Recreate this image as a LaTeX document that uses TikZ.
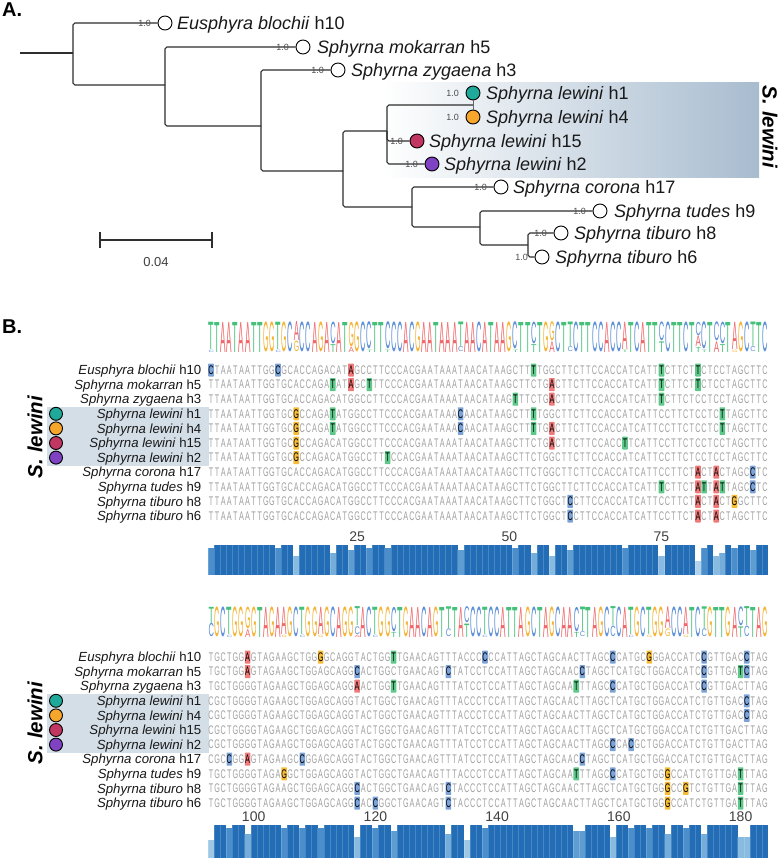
\documentclass[tikz,border=0pt]{standalone}
\usepackage{fontspec}
\setmainfont{Liberation Sans}
\usepackage{graphicx}
\usetikzlibrary{calc}

\definecolor{lgA}{HTML}{F0686A}
\definecolor{lgC}{HTML}{5E90D8}
\definecolor{lgG}{HTML}{F5B333}
\definecolor{lgT}{HTML}{44C07A}
\definecolor{hlA}{HTML}{F07A7A}
\definecolor{hlC}{HTML}{7BA3D8}
\definecolor{hlG}{HTML}{F7BB35}
\definecolor{hlT}{HTML}{5DC88A}
\definecolor{seqgray}{HTML}{A0A0A0}
\definecolor{treeline}{HTML}{2E2E2E}
\definecolor{cladeband}{HTML}{A8BCCF}
\definecolor{bandB}{HTML}{D4DEE7}
\definecolor{hapTeal}{HTML}{1FA99A}
\definecolor{hapOrange}{HTML}{F6A62A}
\definecolor{hapCrimson}{HTML}{C23662}
\definecolor{hapPurple}{HTML}{7E42C2}
\definecolor{barc11}{HTML}{226DB5}
\definecolor{barc10}{HTML}{4A8FCB}
\definecolor{barc9}{HTML}{5E9DD2}
\definecolor{barc8}{HTML}{74ACDA}
\definecolor{barc7}{HTML}{89BADF}
\definecolor{barc6}{HTML}{9EC7E5}
\definecolor{barc5}{HTML}{B0D2EA}

\makeatletter
\newcount\sq@col
\def\sq@x{208}
\def\sq@w{6.087}
\def\sq@yzeroa{370}
\def\sq@yzerob{657}
\newcommand\seqline[3]{%
  \def\sq@blk{#1}\def\sq@row{#2}%
  \pgfmathsetmacro\sq@y{\csname sq@yzero#1\endcsname+(#2-1)*14.6}%
  \sq@col=0 \sq@loop#3\relax}
\def\sq@loop#1{\ifx\relax#1\else\advance\sq@col by 1 \sq@cell#1\expandafter\sq@loop\fi}
\def\sq@glyph#1{\scalebox{0.58}[1]{#1}}
\def\sq@cell#1{%
  \pgfmathsetmacro\sq@cx{\sq@x+(\the\sq@col-0.5)*\sq@w}%
  \edef\sq@nm{s\sq@blk\sq@row c\the\sq@col}%
  \ifx#1a\sq@hl{A}\else\ifx#1c\sq@hl{C}\else\ifx#1g\sq@hl{G}\else\ifx#1t\sq@hl{T}\else
  \node[seqlet] (\sq@nm) at (\sq@cx,\sq@y) {\sq@glyph{#1}};\fi\fi\fi\fi}
\def\sq@hl#1{%
  \fill[hl#1, rounded corners=0.6pt] (\sq@cx-2.8,\sq@y-6.5) rectangle (\sq@cx+2.8,\sq@y+6.5);%
  \node[seqlet, text=black] (\sq@nm) at (\sq@cx,\sq@y) {\sq@glyph{#1}};}
% logo
\def\lg@H{30.5}
\newcommand\logobase[3]{%
  \def\lg@blk{#1}\def\lg@base{#2}\sq@col=0 \lg@loop#3\relax}
\def\lg@loop#1{\ifx\relax#1\else\advance\sq@col by 1 \ifx#1.\else\lp{\the\sq@col}{#1}{0}{11}\fi\expandafter\lg@loop\fi}
\newcommand\lp[4]{%
  \pgfmathsetmacro\lg@px{\sq@x+(#1-1)*\sq@w+0.35}%
  \pgfmathsetmacro\lg@py{\lg@base-#3/11*\lg@H-0.25}%
  \pgfmathsetmacro\lg@ph{#4/11*\lg@H-0.5}%
  \edef\lg@nm{lg\lg@blk c#1#2}%
  \node[logolet, text=lg#2] (\lg@nm) at (\lg@px,\lg@py) {\resizebox*{5.4pt}{\lg@ph pt}{#2}};}
% bars
\newcommand\setbar[3]{\expandafter\def\csname bc@#1@#2\endcsname{#3}}
\newcommand\drawbars[3]{%
  \foreach \c in {1,...,92}{%
    \ifcsname bc@#1@\c\endcsname \edef\bn{\csname bc@#1@\c\endcsname}\else\def\bn{11}\fi
    \pgfmathsetmacro\bxl{208+(\c-1)*6.087}%
    \pgfmathsetmacro\bxr{\bxl+6.087}%
    \pgfmathsetmacro\byt{#2+(1-\bn/11)*#3}%
    \fill[barc\bn] (\bxl,\byt) rectangle (\bxr,#2+#3);
    \draw[white, line width=0.2pt, opacity=0.18] (\bxl,\byt) -- (\bxl,#2+#3);
  }}
\makeatother

\setbar{a}{1}{10}\setbar{a}{12}{10}\setbar{a}{15}{7}\setbar{a}{21}{8}\setbar{a}{24}{9}
\setbar{a}{27}{10}\setbar{a}{30}{10}\setbar{a}{42}{9}\setbar{a}{51}{10}\setbar{a}{54}{8}
\setbar{a}{57}{7}\setbar{a}{60}{9}\setbar{a}{69}{10}\setbar{a}{75}{7}\setbar{a}{81}{5}
\setbar{a}{82}{10}\setbar{a}{84}{7}\setbar{a}{85}{8}\setbar{a}{87}{10}\setbar{a}{90}{9}
\setbar{b}{1}{6}\setbar{b}{4}{10}\setbar{b}{7}{8}\setbar{b}{13}{10}\setbar{b}{16}{10}
\setbar{b}{19}{10}\setbar{b}{25}{7}\setbar{b}{28}{10}\setbar{b}{31}{9}\setbar{b}{40}{8}
\setbar{b}{43}{6}\setbar{b}{46}{10}\setbar{b}{61}{9}\setbar{b}{62}{9}\setbar{b}{67}{7}
\setbar{b}{70}{10}\setbar{b}{73}{10}\setbar{b}{76}{8}\setbar{b}{79}{10}\setbar{b}{82}{8}
\setbar{b}{88}{7}\setbar{b}{89}{7}

\tikzset{
  br/.style={draw=treeline, line width=1.1pt, rounded corners=1.8pt},
  tip/.style={circle, draw=black, line width=0.9pt, fill=white, minimum size=14pt, inner sep=0pt},
  supp/.style={font=\fontsize{9}{9}\selectfont, text=black!70, inner sep=0pt, anchor=east},
  taxon/.style={font=\fontsize{18}{18}\selectfont, text=black!90, inner sep=0pt, anchor=base west},
  blabel/.style={font=\fontsize{13.2}{13.2}\selectfont, text=black!90, inner sep=0pt, anchor=base east},
  seqlet/.style={font=\fontsize{12.5}{12.5}\selectfont, text=seqgray, inner sep=0pt, anchor=center},
  logolet/.style={font=\fontsize{3}{3}\selectfont, inner sep=0pt, anchor=south west},
  numlbl/.style={font=\fontsize{14}{14}\selectfont, text=black!75, inner sep=0pt},
  panel/.style={font=\bfseries\fontsize{20}{20}\selectfont, inner sep=0pt, anchor=north west},
  cladelbl/.style={font=\bfseries\itshape\fontsize{20.5}{20.5}\selectfont, inner sep=0pt},
  hapdot/.style={circle, draw=black, line width=0.9pt, minimum size=13pt, inner sep=0pt},
}

\begin{document}
\begin{tikzpicture}[x=1pt, y=-1pt]
\useasboundingbox (0,0) rectangle (781,860);
\fill[white] (0,0) rectangle (781,860);

%================ Panel A =================
\node[panel] (pA) at (2,3) {A.};
\shade[left color=white, right color=cladeband] (383,82) rectangle (759,177);
\node[cladelbl, rotate=-90] (cladeA) at (770,127) {S. lewini};

\coordinate (root) at (20,53);
\coordinate (n1) at (73,53);
\coordinate (n2) at (165,85);
\coordinate (n3) at (261,126);
\coordinate (n4) at (343,171);
\coordinate (n5) at (387,131);
\coordinate (n45) at (473,105);
\coordinate (n6) at (412,207);
\coordinate (n7) at (480,227);
\coordinate (n8) at (528,245);

\node[tip] (tE) at (165,23) {};
\node[tip] (tMok) at (303,47) {};
\node[tip] (tZyg) at (338,70) {};
\node[tip, fill=hapTeal] (tH1) at (473,93) {};
\node[tip, fill=hapOrange] (tH4) at (473,117) {};
\node[tip, fill=hapCrimson] (tH15) at (417,141) {};
\node[tip, fill=hapPurple] (tH2) at (432,164) {};
\node[tip] (tCor) at (501,187) {};
\node[tip] (tTud) at (600,211) {};
\node[tip] (tH8) at (561,233) {};
\node[tip] (tH6) at (542,257) {};

\draw[br] (root) -- (n1);
\draw[br] (n1) |- (tE);
\draw[br] (n1) |- (n2);
\draw[br] (n2) |- (tMok);
\draw[br] (n2) |- (n3);
\draw[br] (n3) |- (tZyg);
\draw[br] (n3) |- (n4);
\draw[br] (n4) |- (n5);
\draw[br] (n4) |- (n6);
\draw[br] (n5) |- (n45);
\draw[br] (n5) |- (tH15);
\draw[br] (n5) |- (tH2);
\draw[br, draw=black!60, line width=0.8pt] (tH1) -- (tH4);
\draw[br] (n6) |- (tCor);
\draw[br] (n6) |- (n7);
\draw[br] (n7) |- (tTud);
\draw[br] (n7) |- (n8);
\draw[br] (n8) |- (tH8);
\draw[br] (n8) |- (tH6);

\foreach \t in {tE,tMok,tZyg,tH1,tH4,tH15,tH2,tCor,tTud,tH8,tH6}{
  \node[supp] (s\t) at ([xshift=-6.5pt]\t.west) {1.0};
}

\node[taxon] (lE) at ($(tE)+(12,6.4)$) {\textit{Eusphyra blochii} h10};
\node[taxon] (lMok) at ($(tMok)+(14,6.4)$) {\textit{Sphyrna mokarran} h5};
\node[taxon] (lZyg) at ($(tZyg)+(13,6.4)$) {\textit{Sphyrna zygaena} h3};
\node[taxon] (lH1) at ($(tH1)+(13,6.4)$) {\textit{Sphyrna lewini} h1};
\node[taxon] (lH4) at ($(tH4)+(13,6.4)$) {\textit{Sphyrna lewini} h4};
\node[taxon] (lH15) at ($(tH15)+(12,6.4)$) {\textit{Sphyrna lewini} h15};
\node[taxon] (lH2) at ($(tH2)+(12,6.4)$) {\textit{Sphyrna lewini} h2};
\node[taxon] (lCor) at ($(tCor)+(12,6.4)$) {\textit{Sphyrna corona} h17};
\node[taxon] (lTud) at ($(tTud)+(14,6.4)$) {\textit{Sphyrna tudes} h9};
\node[taxon] (lH8) at ($(tH8)+(13,6.4)$) {\textit{Sphyrna tiburo} h8};
\node[taxon] (lH6) at ($(tH6)+(13,6.4)$) {\textit{Sphyrna tiburo} h6};

% scale bar
\coordinate (sbL) at (100,240);
\coordinate (sbR) at (212,240);
\draw[treeline, line width=1.1pt] (sbL) -- (sbR);
\draw[treeline, line width=1.1pt] ($(sbL)+(0,-8)$) -- ($(sbL)+(0,8)$);
\draw[treeline, line width=1.1pt] ($(sbR)+(0,-8)$) -- ($(sbR)+(0,8)$);
\node[numlbl, font=\fontsize{13}{13}\selectfont] (sbT) at (156,262) {0.04};

%================ Panel B =================
\node[panel] (pB) at (2,320) {B.};

% shaded S. lewini bands
\fill[bandB] (47,406.5) rectangle (209,466);
\fill[bandB] (47,693.5) rectangle (209,753);
\node[cladelbl, rotate=90] (cladeB1) at (35,437) {S. lewini};
\node[cladelbl, rotate=90] (cladeB2) at (35,723) {S. lewini};

\foreach \blk/\yz in {a/370, b/657}{
  \foreach \sp/\hp [count=\i] in {Eusphyra blochii/h10, Sphyrna mokarran/h5, Sphyrna zygaena/h3,
      Sphyrna lewini/h1, Sphyrna lewini/h4, Sphyrna lewini/h15, Sphyrna lewini/h2,
      Sphyrna corona/h17, Sphyrna tudes/h9, Sphyrna tiburo/h8, Sphyrna tiburo/h6}{
    \node[blabel] (lab\blk\i) at (201.5,{\yz+(\i-1)*14.6+4.7}) {\textit{\sp} \hp};
  }
  \foreach \col [count=\i from 4] in {hapTeal,hapOrange,hapCrimson,hapPurple}{
    \node[hapdot, fill=\col] (dot\blk\i) at (56,{\yz+(\i-1)*14.6}) {};
  }
}

% logos
\logobase{a}{352.5}{.TAATAATTG G.GC.CCAGA .AT.GC.TT. CCACGAATAA A.AACATAAG .TT.TG.CT. CTTCCACC.T CATT.CTTCT ..T..T.GC. TC}
\lp{1}{C}{0}{1}\lp{1}{T}{1}{10}
\lp{12}{C}{0}{1}\lp{12}{T}{1}{10}
\lp{15}{G}{0}{4}\lp{15}{A}{4}{7}
\lp{21}{T}{0}{3}\lp{21}{C}{3}{8}
\lp{24}{A}{0}{2}\lp{24}{G}{2}{9}
\lp{27}{T}{0}{1}\lp{27}{C}{1}{10}
\lp{30}{T}{0}{1}\lp{30}{C}{1}{10}
\lp{42}{C}{0}{2}\lp{42}{T}{2}{9}
\lp{51}{T}{0}{1}\lp{51}{C}{1}{10}
\lp{54}{T}{0}{3}\lp{54}{C}{3}{8}
\lp{57}{A}{0}{4}\lp{57}{G}{4}{7}
\lp{60}{C}{0}{2}\lp{60}{T}{2}{9}
\lp{69}{T}{0}{1}\lp{69}{A}{1}{10}
\lp{75}{T}{0}{4}\lp{75}{C}{4}{7}
\lp{81}{T}{0}{2}\lp{81}{A}{2}{4}\lp{81}{C}{6}{5}
\lp{82}{T}{0}{1}\lp{82}{C}{1}{10}
\lp{84}{A}{0}{4}\lp{84}{C}{4}{7}
\lp{85}{T}{0}{3}\lp{85}{C}{3}{8}
\lp{87}{G}{0}{1}\lp{87}{A}{1}{10}
\lp{90}{C}{0}{2}\lp{90}{T}{2}{9}

\logobase{b}{637.5}{.GC.GG.GTA GA.GC.GG.G CAGG.AC.GG .TGAACAGT. TA.CC.CCAT TAGCTAGCAA ..TAGC.CA. GC.GG.CC.T C.GTTGA..T AG}
\lp{1}{C}{0}{5}\lp{1}{T}{5}{6}
\lp{4}{C}{0}{1}\lp{4}{T}{1}{10}
\lp{7}{A}{0}{3}\lp{7}{G}{3}{8}
\lp{13}{G}{0}{1}\lp{13}{A}{1}{10}
\lp{16}{C}{0}{1}\lp{16}{T}{1}{10}
\lp{19}{G}{0}{1}\lp{19}{A}{1}{10}
\lp{25}{A}{0}{1}\lp{25}{C}{1}{3}\lp{25}{T}{4}{7}
\lp{28}{C}{0}{1}\lp{28}{T}{1}{10}
\lp{31}{T}{0}{2}\lp{31}{C}{2}{9}
\lp{40}{C}{0}{3}\lp{40}{T}{3}{8}
\lp{43}{T}{0}{5}\lp{43}{C}{5}{6}
\lp{46}{C}{0}{1}\lp{46}{T}{1}{10}
\lp{61}{T}{0}{2}\lp{61}{C}{2}{9}
\lp{62}{C}{0}{2}\lp{62}{T}{2}{9}
\lp{67}{C}{0}{4}\lp{67}{T}{4}{7}
\lp{70}{C}{0}{1}\lp{70}{T}{1}{10}
\lp{73}{G}{0}{1}\lp{73}{T}{1}{10}
\lp{76}{G}{0}{3}\lp{76}{A}{3}{8}
\lp{79}{G}{0}{1}\lp{79}{A}{1}{10}
\lp{82}{C}{0}{3}\lp{82}{T}{3}{8}
\lp{88}{T}{0}{4}\lp{88}{C}{4}{7}
\lp{89}{C}{0}{4}\lp{89}{T}{4}{7}

% alignment block 1
\seqline{a}{1}{cTAATAATTG GcGCACCAGA CATaGCCTTC CCACGAATAA ATAACATAAG CTTtTGGCTT CTTCCACCAT CATTtCTTCT tCTCCTAGCT TC}
\seqline{a}{2}{TTAATAATTG GTGCACCAGA tATaGCtTTC CCACGAATAA ATAACATAAG CTTCTGaCTT CTTCCACCAT CATTtCTTCT tCTCCTAGCT TC}
\seqline{a}{3}{TTAATAATTG GTGCACCAGA CATGGCCTTC CCACGAATAA ATAACATAAG tTTCTGaCTT CTTCCACCAT CATTtCTTCT CCTCCTAGCT TC}
\seqline{a}{4}{TTAATAATTG GTGCgCCAGA tATGGCCTTC CCACGAATAA AcAACATAAG CTTtTGGCTT CTTCCACCAT CATTCCTTCT CCTCtTAGCT TC}
\seqline{a}{5}{TTAATAATTG GTGCgCCAGA tATGGCCTTC CCACGAATAA AcAACATAAG CTTtTGaCTT CTTCCACCAT CATTCCTTCT CCTCtTAGCT TC}
\seqline{a}{6}{TTAATAATTG GTGCgCCAGA CATGGCCTTC CCACGAATAA ATAACATAAG CTTCTGaCTT CTTCCACCtT CATTCCTTCT CCTCCTAGCT TC}
\seqline{a}{7}{TTAATAATTG GTGCgCCAGA CATGGCCTTt CCACGAATAA ATAACATAAG CTTCTGGCTT CTTCCACCAT CATTCCTTCT CCTCCTAGCT TC}
\seqline{a}{8}{TTAATAATTG GTGCACCAGA CATGGCCTTC CCACGAATAA ATAACATAAG CTTCTGGCTT CTTCCACCAT CATTCCTTCT aCTaCTAGCc TC}
\seqline{a}{9}{TTAATAATTG GTGCACCAGA CATGGCCTTC CCACGAATAA ATAACATAAG CTTCTGGCTT CTTCCACCAT CATTtCTTCT atTatTAGCc TC}
\seqline{a}{10}{TTAATAATTG GTGCACCAGA CATGGCCTTC CCACGAATAA ATAACATAAG CTTCTGGCTc CTTCCACCAT CATTCCTTCT aCTaCTgGCT TC}
\seqline{a}{11}{TTAATAATTG GTGCACCAGA CATGGCCTTC CCACGAATAA ATAACATAAG CTTCTGGCTc CTTCCACCAT CATTCCTTCT aCTaCTAGCT TC}

% alignment block 2
\seqline{b}{1}{TGCTGGaGTA GAAGCTGGgG CAGGTACTGG tTGAACAGTT TACCCcCCAT TAGCTAGCAA CTTAGCcCAT GCgGGACCAT CcGTTGACcT AG}
\seqline{b}{2}{TGCTGGaGTA GAAGCTGGAG CAGGcACTGG CTGAACAGTc TATCCTCCAT TAGCTAGCAA CcTAGCTCAT GCTGGACCAT CcGTTGAtcT AG}
\seqline{b}{3}{TGCTGGGGTA GAAGCTGGAG CAGGaACTGG tTGAACAGTT TATCCTCCAT TAGCTAGCAA tTTAGCcCAT GCTGGACCAT CcGTTGACTT AG}
\seqline{b}{4}{CGCTGGGGTA GAAGCTGGAG CAGGTACTGG CTGAACAGTT TACCCTCCAT TAGCTAGCAA CTTAGCTCAT GCTGGACCAT CTGTTGACcT AG}
\seqline{b}{5}{CGCTGGGGTA GAAGCTGGAG CAGGTACTGG CTGAACAGTT TACCCTCCAT TAGCTAGCAA CTTAGCTCAT GCTGGACCAT CTGTTGACcT AG}
\seqline{b}{6}{CGCTGGGGTA GAAGCTGGAG CAGGTACTGG CTGAACAGTT TATCCTCCAT TAGCTAGCAA CTTAGCTCAT GCTGGACCAT CTGTTGACTT AG}
\seqline{b}{7}{CGCTGGGGTA GAAGCTGGAG CAGGTACTGG CTGAACAGTT TATCCTCCAT TAGCTAGCAA CTTAGCcCAc GCTGGACCAT CTGTTGACTT AG}
\seqline{b}{8}{CGCcGGaGTA GAAGCcGGAG CAGGTACTGG CTGAACAGTT TATCCTCCAT TAGCTAGCAA CcTAGCTCAT GCTGGACCAT CTGTTGACTT AG}
\seqline{b}{9}{TGCTGGGGTA GAgGCTGGAG CAGGTACTGG CTGAACAGTT TACCCTCCAT TAGCTAGCAA tTTAGCcCAT GCTGGgCCAT CTGTTGAtTT AG}
\seqline{b}{10}{TGCTGGGGTA GAAGCTGGAG CAGGcACTGG CTGAACAGTc TACCCTCCAT TAGCTAGCAA CTTAGCTCAT GCTGGgCCgT CTGTTGAtTT AG}
\seqline{b}{11}{TGCTGGGGTA GAAGCTGGAG CAGGcACcGG CTGAACAGTc TACCCTCCAT TAGCTAGCAA CTTAGCTCAT GCTGGgCCAT CTGTTGAtTT AG}

% position numbers
\foreach \p/\c in {25/25, 50/50, 75/75}{
  \node[numlbl] (num\p) at ({208+(\c-0.5)*6.087},537) {\p};
}
\foreach \p/\c in {100/8, 120/28, 140/48, 160/68, 180/88}{
  \node[numlbl] (num\p) at ({208+(\c-0.5)*6.087},817) {\p};
}

% conservation bars
\drawbars{a}{545}{30}
\drawbars{b}{825}{33}

\end{tikzpicture}
\end{document}
